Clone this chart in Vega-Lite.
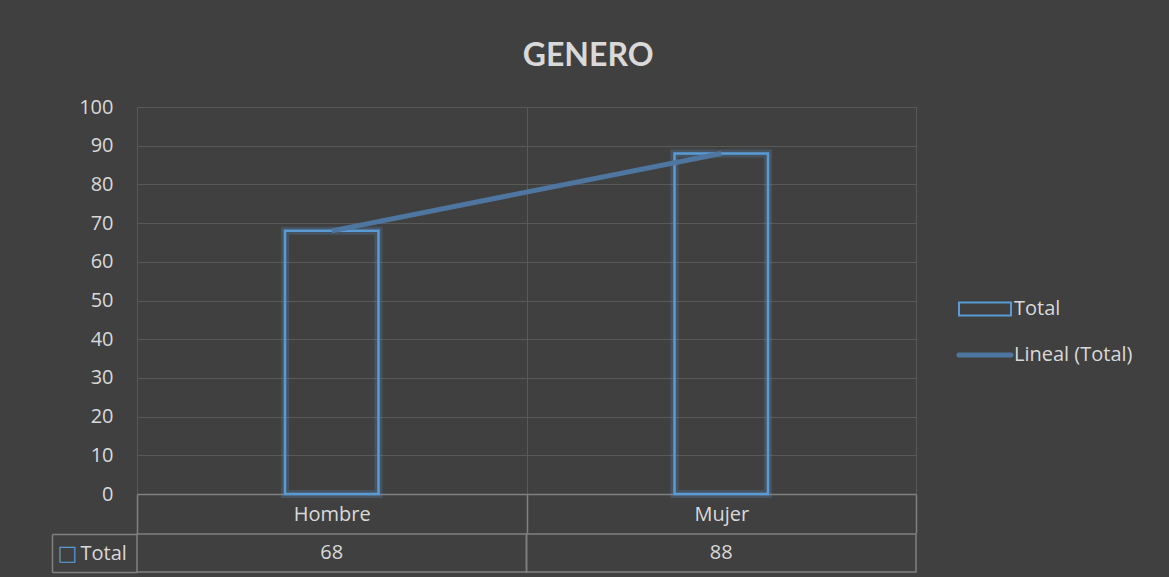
{
  "$schema": "https://vega.github.io/schema/vega-lite/v6.json",
  "background": "#404040",
  "padding": {"left": 51, "top": 40, "right": 40, "bottom": 8},
  "config": {"view": {"stroke": null}, "font": "Open Sans"},
  "title": {"text": "GENERO", "font": "Lato", "fontSize": 32, "fontWeight": "bold", "color": "#d9d9d9", "anchor": "middle", "offset": 24, "dx": -4},
  "datasets": {
    "genero": [{"genero": "Hombre", "total": 68}, {"genero": "Mujer", "total": 88}]
  },
  "spacing": -11,
  "vconcat": [
    {
      "width": 779,
      "height": 387,
      "data": {"name": "genero"},
      "encoding": {
        "x": {
          "field": "genero", "type": "nominal", "sort": ["Hombre", "Mujer"],
          "scale": {"paddingInner": 0, "paddingOuter": 0},
          "axis": {"title": null, "domain": true, "domainColor": "#808080", "domainWidth": 1.5, "ticks": true, "tickBand": "extent", "tickSize": 39, "tickColor": "#808080", "tickWidth": 1.5, "grid": true, "gridColor": "#595959", "gridWidth": 1, "labelAngle": 0, "labelPadding": -19, "labelBaseline": "middle", "labelFontSize": 20, "labelColor": "#d9d9d9", "labelFont": "Open Sans"}
        },
        "y": {
          "field": "total", "type": "quantitative",
          "scale": {"domain": [0, 100]},
          "axis": {"title": null, "domain": false, "ticks": false, "grid": true, "gridColor": "#595959", "gridWidth": 1, "labelPadding": 24, "labelFontSize": 20, "labelColor": "#d9d9d9", "labelFont": "Open Sans", "values": [0, 10, 20, 30, 40, 50, 60, 70, 80, 90, 100], "minExtent": 85}
        }
      },
      "layer": [
        {"mark": {"type": "bar", "width": {"band": 0.24}, "fill": "transparent", "stroke": "#5b9bd5", "strokeWidth": 8, "strokeOpacity": 0.22}},
        {
          "mark": {"type": "bar", "width": {"band": 0.24}, "fill": "transparent", "strokeWidth": 2.5},
          "encoding": {
            "stroke": {
              "datum": "Total", "type": "nominal",
              "scale": {"domain": ["Total", "Lineal (Total)"], "range": ["#5b9bd5", "#4e76a0"]},
              "legend": {
                "title": null, "orient": "none", "legendX": 838, "legendY": 192, "padding": 0,
                "symbolSize": 2704, "labelFontSize": 20, "labelColor": "#d9d9d9", "labelFont": "Open Sans", "labelOffset": 19, "rowPadding": 25,
                "encode": {
                  "symbols": {"update": {
                    "shape": {"signal": "datum.value === 'Total' ? 'M-1,-0.25H1V0.25H-1Z' : 'M-1,0H1'"},
                    "strokeWidth": {"signal": "datum.value === 'Total' ? 2 : 5"},
                    "strokeCap": {"value": "round"},
                    "fill": {"value": "transparent"},
                    "opacity": {"value": 1}
                  }}
                }
              }
            }
          }
        },
        {
          "mark": {"type": "line", "strokeWidth": 5},
          "encoding": {"stroke": {"datum": "Lineal (Total)", "type": "nominal",
              "legend": {
                "title": null, "orient": "none", "legendX": 838, "legendY": 192, "padding": 0,
                "symbolSize": 2704, "labelFontSize": 20, "labelColor": "#d9d9d9", "labelFont": "Open Sans", "labelOffset": 19, "rowPadding": 25,
                "encode": {
                  "symbols": {"update": {
                    "shape": {"signal": "datum.value === 'Total' ? 'M-1,-0.25H1V0.25H-1Z' : 'M-1,0H1'"},
                    "strokeWidth": {"signal": "datum.value === 'Total' ? 2 : 5"},
                    "strokeCap": {"value": "round"},
                    "fill": {"value": "transparent"},
                    "opacity": {"value": 1}
                  }}
                }
              }}}
        }
      ]
    },
    {
      "width": 779, "height": 38,
      "data": {"name": "genero"},
      "encoding": {
        "x": {"field": "genero", "type": "nominal", "sort": ["Hombre", "Mujer"], "scale": {"paddingInner": 0, "paddingOuter": 0}, "axis": null},
        "y": {"datum": "Total", "type": "nominal", "scale": {"paddingInner": 0, "paddingOuter": 0},
          "axis": {"title": "□", "titleColor": "#5b9bd5", "titleFont": "DejaVu Sans", "titleFontSize": 21, "titleFontWeight": "bold", "titleAngle": 0, "titleX": 15, "titleY": 19, "titleAlign": "center", "titleBaseline": "middle",
                   "offset": 85, "domain": true, "domainColor": "#808080", "domainWidth": 1.5, "ticks": true, "tickBand": "extent", "tickSize": -85, "tickColor": "#808080", "tickWidth": 1.5,
                   "labelAlign": "left", "labelPadding": 57, "labelFontSize": 20, "labelColor": "#d9d9d9", "labelFont": "Open Sans", "grid": false}}
      },
      "layer": [
        {"mark": {"type": "rect", "fill": "transparent", "stroke": "#808080", "strokeWidth": 1.5}},
        {"mark": {"type": "text", "fontSize": 20, "color": "#d9d9d9", "font": "Open Sans"},
         "encoding": {"text": {"field": "total", "type": "quantitative"}}}
      ]
    }
  ]
}
